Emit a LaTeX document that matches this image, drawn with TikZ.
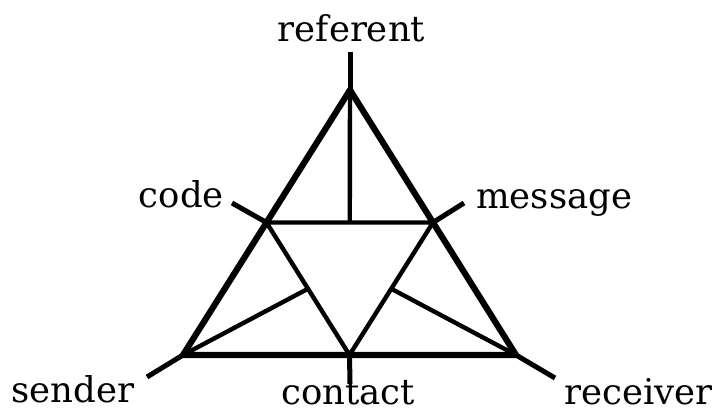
\documentclass[tikz,border=0pt]{standalone}
\usepackage{fontspec}
\setmainfont{DejaVu Serif}
\usetikzlibrary{calc}
\begin{document}
\begin{tikzpicture}[x=1pt,y=-1pt,
  outer/.style={line width=6.2pt,line join=miter},
  inner/.style={line width=4.4pt},
  tick/.style={line width=5pt},
  lbl/.style={inner sep=0pt,font=\fontsize{35.5}{40}\selectfont}]
\useasboundingbox (0,0) rectangle (712,412);
% vertices
\coordinate (T) at (350,90);
\coordinate (L) at (183,355);
\coordinate (R) at (516,355);
\coordinate (ML) at ($(T)!0.5!(L)$);
\coordinate (MR) at ($(T)!0.5!(R)$);
\coordinate (MB) at ($(L)!0.5!(R)$);
\coordinate (MT) at ($(ML)!0.5!(MR)$);
\coordinate (CL) at ($(ML)!0.5!(MB)$);
\coordinate (CR) at ($(MR)!0.5!(MB)$);
% tick ends
\coordinate (tT) at (350,52);
\coordinate (tML) at (232,203);
\coordinate (tMR) at (464,203);
\coordinate (tL) at (147,377);
\coordinate (tR) at (555,378);
\coordinate (tMB) at (350,384);
% labels
\node[lbl,anchor=base] (referent) at (351.5,42) {referent};
\node[lbl,anchor=base east] (code) at (224,207) {code};
\node[lbl,anchor=base west] (message) at (476,208) {message};
\node[lbl,anchor=base west] (sender) at (11,402) {sender};
\node[lbl,anchor=base] (contact) at (348,404) {contact};
\node[lbl,anchor=base west] (receiver) at (564,404) {receiver};
% inner lines
\draw[inner] (ML) -- (MR) -- (MB) -- cycle;
\draw[inner] (T) -- (MT);
\draw[inner] (L) -- (CL);
\draw[inner] (R) -- (CR);
% ticks
\draw[tick] (T) -- (tT);
\draw[tick] (ML) -- (tML);
\draw[tick] (MR) -- (tMR);
\draw[tick] (L) -- (tL);
\draw[tick] (R) -- (tR);
\draw[tick] (MB) -- (tMB);
% outer
\draw[outer] (T) -- (L) -- (R) -- cycle;
\end{tikzpicture}
\end{document}
